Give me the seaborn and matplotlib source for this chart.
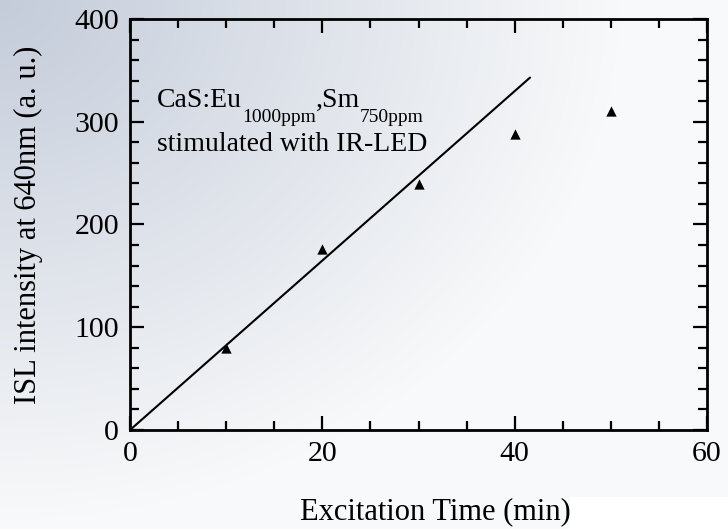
import numpy as np
import pandas as pd
import matplotlib
matplotlib.use("Agg")
import matplotlib.pyplot as plt
import seaborn as sns
from matplotlib.patches import Rectangle
from matplotlib.ticker import MultipleLocator
from matplotlib.transforms import IdentityTransform

# data
excitation_time = [10, 20, 30, 40, 50]
isl_intensity = [80, 176, 239, 288, 310]
fit_time = [0, 41.6]
fit_intensity = [0, 343]
x_ticks = [0, 20, 40, 60]
y_ticks = [0, 100, 200, 300, 400]

sns.set_theme(style="white")
plt.rcParams['font.family'] = ['Liberation Serif', 'DejaVu Serif']
plt.rcParams['text.color'] = 'black'
plt.rcParams['axes.labelcolor'] = 'black'
plt.rcParams['xtick.color'] = 'black'
plt.rcParams['ytick.color'] = 'black'

W, H = 728, 529
fig = plt.figure(figsize=(W / 100, H / 100), dpi=100)

# background gradient
bg = fig.add_axes([0, 0, 1, 1], zorder=-10)
xx, yy = np.meshgrid(np.linspace(0, 1, W), np.linspace(0, 1, H))
r = np.sqrt((xx * W / 620) ** 2 + (yy * H / 520) ** 2)
shade = np.clip(1 - r, 0, 1) ** 1.0
dark = np.array([196, 204, 218]) / 255.0
light = np.array([248, 249, 250]) / 255.0
img = light[None, None, :] + (dark - light)[None, None, :] * shade[..., None]
bg.imshow(img, aspect='auto', extent=[0, 1, 1, 0])
bg.set_xlim(0, 1)
bg.set_ylim(1, 0)
bg.axis('off')
fig.patches.append(Rectangle((570 / W, 0), 1 - 570 / W, 32 / H, transform=fig.transFigure,
                             facecolor='white', edgecolor='none', zorder=-5))

ax = fig.add_axes([130 / W, 1 - 430 / H, 577 / W, 411 / H])
ax.set_facecolor('none')

df_pts = pd.DataFrame({'t': excitation_time, 'I': isl_intensity})
df_fit = pd.DataFrame({'t': fit_time, 'I': fit_intensity})
sns.lineplot(data=df_fit, x='t', y='I', color='black', linewidth=1.5, ax=ax, zorder=3)
sns.scatterplot(data=df_pts, x='t', y='I', marker='^', s=55, color='black',
                linewidth=0, ax=ax, zorder=4)

ax.set_xlim(0, 60)
ax.set_ylim(0, 400)
ax.set_xticks(x_ticks)
ax.set_yticks(y_ticks)
ax.xaxis.set_minor_locator(MultipleLocator(5))
ax.yaxis.set_minor_locator(MultipleLocator(20))
ax.tick_params(which='both', direction='in', top=True, right=True, bottom=True, left=True,
               color='black', width=1.6, labelcolor='black')
ax.tick_params(which='major', length=10, labelsize=21.5)
ax.tick_params(axis='x', which='major', pad=8)
ax.tick_params(axis='y', which='major', pad=8)
ax.tick_params(which='minor', length=6.5)
for s in ax.spines.values():
    s.set_color('black')
    s.set_linewidth(2)

ax.set_xlabel('Excitation Time (min)', fontsize=22, va='center')
ax.set_ylabel('ISL intensity at 640nm (a. u.)', fontsize=22, va='center')
ax.xaxis.set_label_coords((435 - 130) / 577, (430 - 512) / 411)
ax.yaxis.set_label_coords((28 - 130) / 577, 0.5)

# annotation with real subscripts, placed piece by piece in pixel space
fs_main, fs_sub = 20, 14
renderer = fig.canvas.get_renderer()
x_px, base_px = 157.0, H - 107.0
sub_drop = 15.0
pieces = [('CaS:Eu', fs_main, 0.0), ('1000ppm', fs_sub, -sub_drop),
          (',Sm', fs_main, 0.0), ('750ppm', fs_sub, -sub_drop)]
for txt, fs, dy in pieces:
    t = fig.text(x_px, base_px + dy, txt, transform=IdentityTransform(), fontsize=fs,
                 ha='left', va='baseline')
    x_px += t.get_window_extent(renderer).width
fig.text(157.0, H - 151.0, 'stimulated with IR-LED', transform=IdentityTransform(),
         fontsize=fs_main, ha='left', va='baseline')

fig.savefig('out.png', dpi=100)
